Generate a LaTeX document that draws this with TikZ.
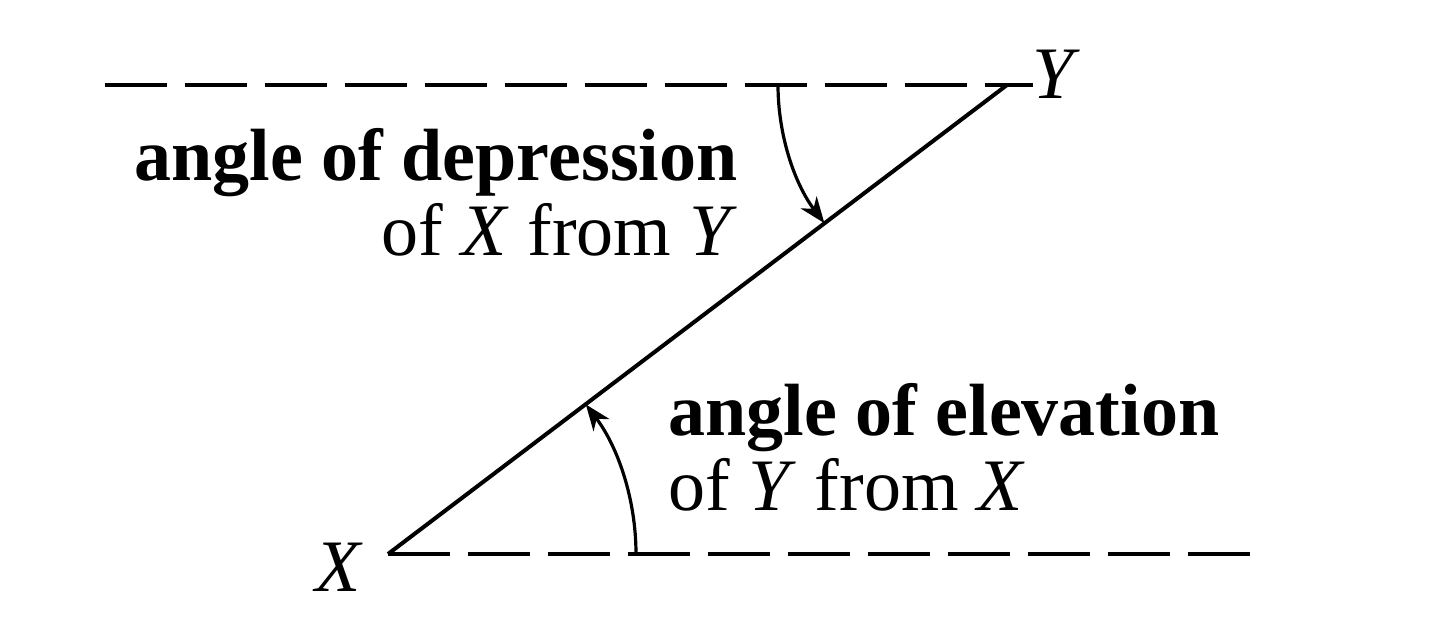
\documentclass[tikz,border=0pt]{standalone}
\usepackage{fontspec}
\setmainfont{Liberation Serif}
\usetikzlibrary{arrows.meta}
\begin{document}
\begin{tikzpicture}[x=0.5pt,y=0.5pt,
  dashline/.style={line width=2.2pt,dash pattern=on 31pt off 9pt},
  mainline/.style={line width=2pt},
  anglearc/.style={line width=1.6pt,-{Stealth[length=13pt,width=10pt,inset=4pt]}},
  lbl/.style={inner sep=0pt,font=\fontsize{37}{37.5}\selectfont},
  ptlbl/.style={inner sep=0pt,font=\fontsize{37}{37.5}\selectfont\itshape}]
\useasboundingbox (0,0) rectangle (1440,623);
\coordinate (X) at (388,69);
\coordinate (Y) at (1007,538);
\coordinate (tl) at (105,538);
\coordinate (tr) at (1033,538);
\coordinate (br) at (1255,69);
\draw[dashline] (tl) -- (tr);
\draw[dashline] (X) -- (br);
\draw[mainline] (X) -- (Y);
\node[ptlbl] (ylab) at (1053,549) {Y};
\node[ptlbl] (xlab) at (338,56) {X};
\draw[anglearc] ([shift={(180:114.5pt)}]Y) arc[start angle=180,end angle=217.1,radius=114.5pt];
\draw[anglearc] ([shift={(0:124pt)}]X) arc[start angle=0,end angle=37.1,radius=124pt];
\node[lbl,anchor=base east] (dep1) at (738,443) {\textbf{angle of depression}};
\node[lbl,anchor=base east] (dep2) at (738,368) {of \textit{X} from \textit{Y}};
\node[lbl,anchor=base west] (elev1) at (668,188) {\textbf{angle of elevation}};
\node[lbl,anchor=base west] (elev2) at (668,113) {of \textit{Y} from \textit{X}};
\end{tikzpicture}
\end{document}
